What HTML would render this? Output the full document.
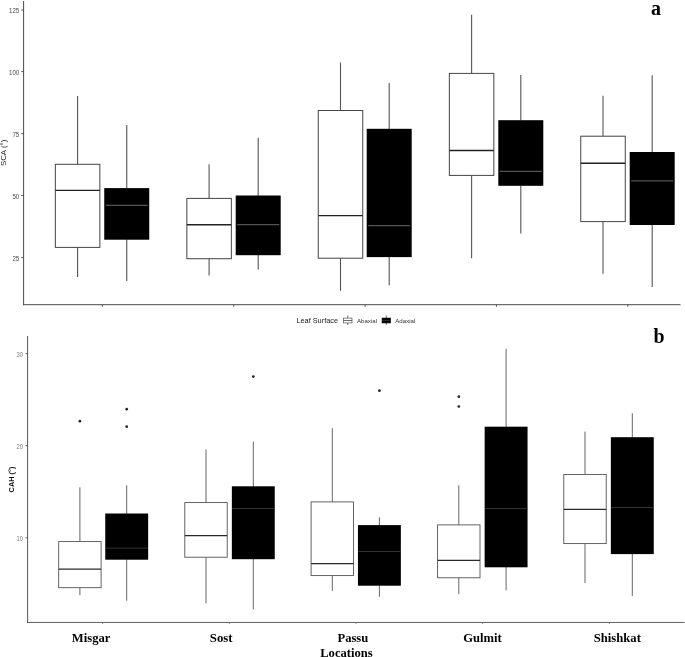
<!DOCTYPE html>
<html><head><meta charset="utf-8"><title>Boxplots</title>
<style>
html,body{margin:0;padding:0;background:#fff;}
body{width:685px;height:657px;overflow:hidden;font-family:"Liberation Sans",sans-serif;}
svg{display:block;filter:grayscale(1);}
svg text{font-family:"Liberation Sans",sans-serif;}
</style></head><body>
<svg width="685" height="657" viewBox="0 0 685 657">
<rect width="685" height="657" fill="#fff"/>
<line x1="23.6" y1="1" x2="23.6" y2="305.2" stroke="#4a4a4a" stroke-width="1"/>
<line x1="23.1" y1="304.7" x2="680.5" y2="304.7" stroke="#4a4a4a" stroke-width="1"/>
<line x1="21.2" y1="10.1" x2="23.6" y2="10.1" stroke="#4a4a4a" stroke-width="0.9"/>
<text x="9.0" y="13.3" textLength="10.3" lengthAdjust="spacingAndGlyphs" font-size="7" fill="#4d4d4d">125</text>
<line x1="21.2" y1="71.6" x2="23.6" y2="71.6" stroke="#4a4a4a" stroke-width="0.9"/>
<text x="9.0" y="74.8" textLength="10.3" lengthAdjust="spacingAndGlyphs" font-size="7" fill="#4d4d4d">100</text>
<line x1="21.2" y1="133.7" x2="23.6" y2="133.7" stroke="#4a4a4a" stroke-width="0.9"/>
<text x="12.4" y="136.9" textLength="6.9" lengthAdjust="spacingAndGlyphs" font-size="7" fill="#4d4d4d">75</text>
<line x1="21.2" y1="195.5" x2="23.6" y2="195.5" stroke="#4a4a4a" stroke-width="0.9"/>
<text x="12.4" y="198.7" textLength="6.9" lengthAdjust="spacingAndGlyphs" font-size="7" fill="#4d4d4d">50</text>
<line x1="21.2" y1="257.5" x2="23.6" y2="257.5" stroke="#4a4a4a" stroke-width="0.9"/>
<text x="12.4" y="260.7" textLength="6.9" lengthAdjust="spacingAndGlyphs" font-size="7" fill="#4d4d4d">25</text>
<line x1="102.40" y1="304.7" x2="102.40" y2="306.8" stroke="#4a4a4a" stroke-width="0.9"/>
<line x1="233.75" y1="304.7" x2="233.75" y2="306.8" stroke="#4a4a4a" stroke-width="0.9"/>
<line x1="365.10" y1="304.7" x2="365.10" y2="306.8" stroke="#4a4a4a" stroke-width="0.9"/>
<line x1="496.45" y1="304.7" x2="496.45" y2="306.8" stroke="#4a4a4a" stroke-width="0.9"/>
<line x1="627.80" y1="304.7" x2="627.80" y2="306.8" stroke="#4a4a4a" stroke-width="0.9"/>
<line x1="77.6" y1="95.9" x2="77.6" y2="164.3" stroke="#555" stroke-width="1.10"/>
<line x1="77.6" y1="247.4" x2="77.6" y2="277.1" stroke="#555" stroke-width="1.10"/>
<rect x="55.35" y="164.3" width="44.50" height="83.10" fill="#fff" stroke="#444" stroke-width="1.0"/>
<line x1="55.35" y1="190.4" x2="99.85" y2="190.4" stroke="#222" stroke-width="1.4"/>
<line x1="126.75" y1="125.1" x2="126.75" y2="188.5" stroke="#555" stroke-width="1.10"/>
<line x1="126.75" y1="239.3" x2="126.75" y2="280.9" stroke="#555" stroke-width="1.10"/>
<rect x="104.25" y="188.10" width="45.00" height="51.60" fill="#000"/>
<line x1="105.70" y1="205.30" x2="147.80" y2="205.30" stroke="#545454" stroke-width="1.2"/>
<line x1="209.1" y1="164.2" x2="209.1" y2="198.4" stroke="#555" stroke-width="1.10"/>
<line x1="209.1" y1="258.7" x2="209.1" y2="275.4" stroke="#555" stroke-width="1.10"/>
<rect x="186.85" y="198.4" width="44.50" height="60.30" fill="#fff" stroke="#444" stroke-width="1.0"/>
<line x1="186.85" y1="224.7" x2="231.35" y2="224.7" stroke="#222" stroke-width="1.4"/>
<line x1="258.2" y1="137.8" x2="258.2" y2="195.9" stroke="#555" stroke-width="1.10"/>
<line x1="258.2" y1="254.8" x2="258.2" y2="269.4" stroke="#555" stroke-width="1.10"/>
<rect x="235.70" y="195.50" width="45.00" height="59.70" fill="#000"/>
<line x1="237.15" y1="224.70" x2="279.25" y2="224.70" stroke="#545454" stroke-width="1.2"/>
<line x1="340.5" y1="62.5" x2="340.5" y2="110.5" stroke="#555" stroke-width="1.10"/>
<line x1="340.5" y1="258.2" x2="340.5" y2="290.8" stroke="#555" stroke-width="1.10"/>
<rect x="318.25" y="110.5" width="44.50" height="147.70" fill="#fff" stroke="#444" stroke-width="1.0"/>
<line x1="318.25" y1="215.6" x2="362.75" y2="215.6" stroke="#222" stroke-width="1.4"/>
<line x1="389.2" y1="83.0" x2="389.2" y2="129.2" stroke="#555" stroke-width="1.10"/>
<line x1="389.2" y1="256.7" x2="389.2" y2="285.3" stroke="#555" stroke-width="1.10"/>
<rect x="366.70" y="128.80" width="45.00" height="128.30" fill="#000"/>
<line x1="368.15" y1="225.60" x2="410.25" y2="225.60" stroke="#545454" stroke-width="1.2"/>
<line x1="471.6" y1="14.8" x2="471.6" y2="73.4" stroke="#555" stroke-width="1.10"/>
<line x1="471.6" y1="175.4" x2="471.6" y2="258.2" stroke="#555" stroke-width="1.10"/>
<rect x="449.35" y="73.4" width="44.50" height="102.00" fill="#fff" stroke="#444" stroke-width="1.0"/>
<line x1="449.35" y1="150.5" x2="493.85" y2="150.5" stroke="#222" stroke-width="1.4"/>
<line x1="520.8" y1="75.1" x2="520.8" y2="120.6" stroke="#555" stroke-width="1.10"/>
<line x1="520.8" y1="185.4" x2="520.8" y2="233.6" stroke="#555" stroke-width="1.10"/>
<rect x="498.30" y="120.20" width="45.00" height="65.60" fill="#000"/>
<line x1="499.75" y1="171.40" x2="541.85" y2="171.40" stroke="#545454" stroke-width="1.2"/>
<line x1="603.0" y1="95.8" x2="603.0" y2="136.2" stroke="#555" stroke-width="1.10"/>
<line x1="603.0" y1="221.6" x2="603.0" y2="273.8" stroke="#555" stroke-width="1.10"/>
<rect x="580.75" y="136.2" width="44.50" height="85.40" fill="#fff" stroke="#444" stroke-width="1.0"/>
<line x1="580.75" y1="163.3" x2="625.25" y2="163.3" stroke="#222" stroke-width="1.4"/>
<line x1="652.2" y1="75.3" x2="652.2" y2="152.4" stroke="#555" stroke-width="1.10"/>
<line x1="652.2" y1="224.6" x2="652.2" y2="286.9" stroke="#555" stroke-width="1.10"/>
<rect x="629.70" y="152.00" width="45.00" height="73.00" fill="#000"/>
<line x1="631.15" y1="180.90" x2="673.25" y2="180.90" stroke="#545454" stroke-width="1.2"/>
<line x1="27.6" y1="336" x2="27.6" y2="622.9" stroke="#555" stroke-width="1"/>
<line x1="27.1" y1="622.45" x2="684.5" y2="622.45" stroke="#555" stroke-width="0.95"/>
<line x1="25.6" y1="353.6" x2="27.6" y2="353.6" stroke="#555" stroke-width="0.9"/>
<text x="16.6" y="356.5" textLength="6.5" lengthAdjust="spacingAndGlyphs" font-size="7" fill="#808080">30</text>
<line x1="25.6" y1="445.6" x2="27.6" y2="445.6" stroke="#555" stroke-width="0.9"/>
<text x="16.6" y="448.5" textLength="6.5" lengthAdjust="spacingAndGlyphs" font-size="7" fill="#808080">20</text>
<line x1="25.6" y1="537.8" x2="27.6" y2="537.8" stroke="#555" stroke-width="0.9"/>
<text x="16.6" y="540.7" textLength="6.5" lengthAdjust="spacingAndGlyphs" font-size="7" fill="#808080">10</text>
<line x1="102.60" y1="622.4" x2="102.60" y2="623.8" stroke="#555" stroke-width="0.8"/>
<line x1="229.30" y1="622.4" x2="229.30" y2="623.8" stroke="#555" stroke-width="0.8"/>
<line x1="356.00" y1="622.4" x2="356.00" y2="623.8" stroke="#555" stroke-width="0.8"/>
<line x1="482.70" y1="622.4" x2="482.70" y2="623.8" stroke="#555" stroke-width="0.8"/>
<line x1="609.40" y1="622.4" x2="609.40" y2="623.8" stroke="#555" stroke-width="0.8"/>
<line x1="79.9" y1="487.3" x2="79.9" y2="541.6" stroke="#5e5e5e" stroke-width="0.95"/>
<line x1="79.9" y1="587.7" x2="79.9" y2="595.2" stroke="#5e5e5e" stroke-width="0.95"/>
<rect x="58.70" y="541.6" width="42.40" height="46.10" fill="#fff" stroke="#4a4a4a" stroke-width="0.85"/>
<line x1="58.70" y1="569.2" x2="101.10" y2="569.2" stroke="#2a2a2a" stroke-width="1.25"/>
<circle cx="79.9" cy="421.2" r="1.35" fill="#222"/>
<line x1="126.7" y1="485.4" x2="126.7" y2="513.9" stroke="#5e5e5e" stroke-width="0.95"/>
<line x1="126.7" y1="559.3" x2="126.7" y2="600.7" stroke="#5e5e5e" stroke-width="0.95"/>
<rect x="105.25" y="513.50" width="42.90" height="46.20" fill="#000"/>
<line x1="105.50" y1="548.15" x2="147.90" y2="548.15" stroke="#3c3c3c" stroke-width="0.85"/>
<circle cx="126.7" cy="409.2" r="1.35" fill="#222"/>
<circle cx="126.7" cy="426.7" r="1.35" fill="#222"/>
<line x1="206.0" y1="449.4" x2="206.0" y2="502.6" stroke="#5e5e5e" stroke-width="0.95"/>
<line x1="206.0" y1="557.2" x2="206.0" y2="603.4" stroke="#5e5e5e" stroke-width="0.95"/>
<rect x="184.80" y="502.6" width="42.40" height="54.60" fill="#fff" stroke="#4a4a4a" stroke-width="0.85"/>
<line x1="184.80" y1="535.5" x2="227.20" y2="535.5" stroke="#2a2a2a" stroke-width="1.25"/>
<line x1="253.3" y1="441.6" x2="253.3" y2="486.7" stroke="#5e5e5e" stroke-width="0.95"/>
<line x1="253.3" y1="558.8" x2="253.3" y2="609.4" stroke="#5e5e5e" stroke-width="0.95"/>
<rect x="231.85" y="486.30" width="42.90" height="72.90" fill="#000"/>
<line x1="232.10" y1="508.45" x2="274.50" y2="508.45" stroke="#3c3c3c" stroke-width="0.85"/>
<circle cx="253.3" cy="376.6" r="1.35" fill="#222"/>
<line x1="332.3" y1="428.1" x2="332.3" y2="501.9" stroke="#5e5e5e" stroke-width="0.95"/>
<line x1="332.3" y1="575.6" x2="332.3" y2="590.8" stroke="#5e5e5e" stroke-width="0.95"/>
<rect x="311.10" y="501.9" width="42.40" height="73.70" fill="#fff" stroke="#4a4a4a" stroke-width="0.85"/>
<line x1="311.10" y1="563.6" x2="353.50" y2="563.6" stroke="#2a2a2a" stroke-width="1.25"/>
<line x1="379.4" y1="517.4" x2="379.4" y2="525.5" stroke="#5e5e5e" stroke-width="0.95"/>
<line x1="379.4" y1="585.3" x2="379.4" y2="596.8" stroke="#5e5e5e" stroke-width="0.95"/>
<rect x="357.95" y="525.10" width="42.90" height="60.60" fill="#000"/>
<line x1="358.20" y1="551.45" x2="400.60" y2="551.45" stroke="#3c3c3c" stroke-width="0.85"/>
<circle cx="379.4" cy="390.7" r="1.35" fill="#222"/>
<line x1="458.8" y1="485.3" x2="458.8" y2="524.9" stroke="#5e5e5e" stroke-width="0.95"/>
<line x1="458.8" y1="577.8" x2="458.8" y2="594.1" stroke="#5e5e5e" stroke-width="0.95"/>
<rect x="437.60" y="524.9" width="42.40" height="52.90" fill="#fff" stroke="#4a4a4a" stroke-width="0.85"/>
<line x1="437.60" y1="560.4" x2="480.00" y2="560.4" stroke="#2a2a2a" stroke-width="1.25"/>
<circle cx="458.8" cy="396.7" r="1.35" fill="#222"/>
<circle cx="458.8" cy="406.5" r="1.35" fill="#222"/>
<line x1="506.1" y1="348.9" x2="506.1" y2="427.1" stroke="#5e5e5e" stroke-width="0.95"/>
<line x1="506.1" y1="566.9" x2="506.1" y2="590.3" stroke="#5e5e5e" stroke-width="0.95"/>
<rect x="484.65" y="426.70" width="42.90" height="140.60" fill="#000"/>
<line x1="484.90" y1="508.55" x2="527.30" y2="508.55" stroke="#3c3c3c" stroke-width="0.85"/>
<line x1="585.0" y1="431.6" x2="585.0" y2="474.5" stroke="#5e5e5e" stroke-width="0.95"/>
<line x1="585.0" y1="543.6" x2="585.0" y2="583.0" stroke="#5e5e5e" stroke-width="0.95"/>
<rect x="563.80" y="474.5" width="42.40" height="69.10" fill="#fff" stroke="#4a4a4a" stroke-width="0.85"/>
<line x1="563.80" y1="509.4" x2="606.20" y2="509.4" stroke="#2a2a2a" stroke-width="1.25"/>
<line x1="632.3" y1="413.2" x2="632.3" y2="437.6" stroke="#5e5e5e" stroke-width="0.95"/>
<line x1="632.3" y1="553.7" x2="632.3" y2="596.0" stroke="#5e5e5e" stroke-width="0.95"/>
<rect x="610.85" y="437.20" width="42.90" height="116.90" fill="#000"/>
<line x1="611.10" y1="507.55" x2="653.50" y2="507.55" stroke="#3c3c3c" stroke-width="0.85"/>
<text transform="translate(6.2,166.1) rotate(-90)" textLength="26.4" lengthAdjust="spacingAndGlyphs" font-size="8" fill="#222">SCA (°)</text>
<text transform="translate(14.1,492.4) rotate(-90)" textLength="25.8" lengthAdjust="spacingAndGlyphs" font-size="7.7" font-weight="bold" fill="#111">CAH (°)</text>
<text x="296.4" y="323.3" font-size="7.35" fill="#222">Leaf Surface</text>
<line x1="347.8" y1="315.4" x2="347.8" y2="325.0" stroke="#555" stroke-width="0.8"/>
<rect x="343.6" y="318.1" width="8.4" height="4.8" fill="#fff" stroke="#555" stroke-width="0.7"/>
<line x1="343.6" y1="320.5" x2="352.0" y2="320.5" stroke="#444" stroke-width="0.8"/>
<line x1="386.3" y1="315.4" x2="386.3" y2="325.0" stroke="#555" stroke-width="0.8"/>
<rect x="382.1" y="318.1" width="8.4" height="4.8" fill="#000" stroke="#000" stroke-width="0.7"/>
<line x1="382.1" y1="320.5" x2="390.5" y2="320.5" stroke="#333" stroke-width="0.8"/>
<text x="357" y="323.3" font-size="6.1" fill="#333">Abaxial</text>
<text x="395.3" y="323.3" font-size="6.1" fill="#333">Adaxial</text>
<text x="651.1" y="15.4" textLength="10" lengthAdjust="spacingAndGlyphs" font-size="21.2" style="font-family:'Liberation Serif',serif;font-weight:bold" fill="#000">a</text>
<text x="653.5" y="343.2" textLength="11.1" lengthAdjust="spacingAndGlyphs" font-size="22" style="font-family:'Liberation Serif',serif;font-weight:bold" fill="#000">b</text>
<text x="71.8" y="642.2" textLength="38.6" lengthAdjust="spacingAndGlyphs" font-size="12.9" style="font-family:'Liberation Serif',serif;font-weight:bold" fill="#000">Misgar</text>
<text x="209.8" y="642.2" textLength="22.8" lengthAdjust="spacingAndGlyphs" font-size="12.9" style="font-family:'Liberation Serif',serif;font-weight:bold" fill="#000">Sost</text>
<text x="337.5" y="642.2" textLength="30.7" lengthAdjust="spacingAndGlyphs" font-size="12.9" style="font-family:'Liberation Serif',serif;font-weight:bold" fill="#000">Passu</text>
<text x="463.2" y="642.2" textLength="38.4" lengthAdjust="spacingAndGlyphs" font-size="12.9" style="font-family:'Liberation Serif',serif;font-weight:bold" fill="#000">Gulmit</text>
<text x="593.7" y="642.2" textLength="47.2" lengthAdjust="spacingAndGlyphs" font-size="12.9" style="font-family:'Liberation Serif',serif;font-weight:bold" fill="#000">Shishkat</text>
<text x="320.2" y="656.7" textLength="52.5" lengthAdjust="spacingAndGlyphs" font-size="12.9" style="font-family:'Liberation Serif',serif;font-weight:bold" fill="#000">Locations</text>
</svg>
</body></html>
